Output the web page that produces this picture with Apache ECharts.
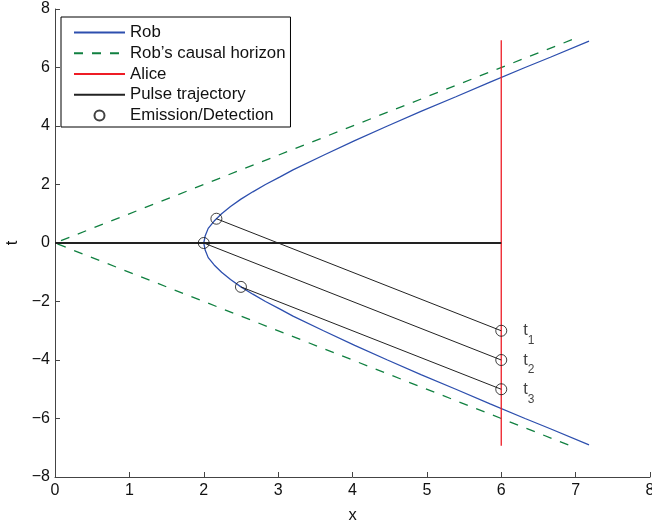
<!DOCTYPE html>
<html><head><meta charset="utf-8">
<script src="https://cdn.jsdelivr.net/npm/echarts@6/dist/echarts.min.js"></script>
<style>html,body{margin:0;padding:0;background:#fff}#c{width:652px;height:524px}</style>
</head><body><div id="c"></div>
<script>
// Rob's worldline (x, t)
const robX = [7.18, 6.66, 6.32, 5.85, 5.39, 4.92, 4.47, 4.03, 3.61, 3.20, 3.02, 2.83, 2.66, 2.50, 2.36, 2.24, 2.14, 2.06, 2.02, 2.00, 2.02, 2.06, 2.14, 2.24, 2.36, 2.50, 2.66, 2.83, 3.02, 3.20, 3.61, 4.03, 4.47, 4.92, 5.39, 5.85, 6.32, 6.66, 7.18];
const robT = [-6.9, -6.35, -6.0, -5.5, -5.0, -4.5, -4.0, -3.5, -3.0, -2.5, -2.25, -2.0, -1.75, -1.5, -1.25, -1.0, -0.75, -0.5, -0.25, 0, 0.25, 0.5, 0.75, 1.0, 1.25, 1.5, 1.75, 2.0, 2.25, 2.5, 3.0, 3.5, 4.0, 4.5, 5.0, 5.5, 6.0, 6.35, 6.9];
// causal horizon
const horizonX = [6.95, 0, 6.95];
const horizonT = [6.95, 0, -6.95];
// Alice
const aliceX = [6, 6];
const aliceT = [-6.93, 6.93];
// Pulse trajectories
const baseLineX = [0, 6];
const baseLineT = [0, 0];
const emitX = [2.17, 2.0, 2.5];
const emitT = [0.83, 0.0, -1.5];
const detectX = [6, 6, 6];
const detectT = [-3, -4, -5];
const detectLabels = ['1', '2', '3'];
const legendNames = ['Rob', "Rob’s causal horizon", 'Alice', 'Pulse trajectory', 'Emission/Detection'];

const FONT = "'Liberation Sans', Arial, Helvetica, sans-serif";
const zip = (a, b) => a.map((v, i) => [v, b[i]]);
const hidden = { opacity: 0 };

const pulseSeries = emitX.map((x, i) => ({
  name: legendNames[3], type: 'line', symbol: 'none', silent: true,
  data: [[x, emitT[i]], [detectX[i], detectT[i]]],
  lineStyle: { color: '#222', width: 1 }, itemStyle: hidden, z: 3
}));

const markerData = zip(emitX, emitT).concat(
  detectX.map((x, i) => ({
    value: [x, detectT[i]],
    label: { show: true, position: 'right', distance: 16,
      formatter: '{a|t}{b|' + detectLabels[i] + '}',
      rich: {
        a: { fontSize: 16.5, fontFamily: FONT, color: '#111' },
        b: { fontSize: 12, fontFamily: FONT, color: '#111', padding: [20, 0, 0, 0] }
      } }
  })));

const chart = echarts.init(document.getElementById('c'));
chart.setOption({
  animation: false,
  backgroundColor: '#fff',
  grid: { left: 55, right: 2, top: 9, bottom: 47, outerBoundsMode: 'none', containLabel: false },
  legend: {
    orient: 'vertical', left: 61, top: 17,
    padding: [7, 5, 3, 12],
    borderColor: '#000', borderWidth: 1, backgroundColor: '#fff',
    itemWidth: 51, itemHeight: 10, itemGap: 3.75,
    textStyle: { fontSize: 16.8, fontFamily: FONT, color: '#111' },
    data: legendNames
  },
  xAxis: {
    type: 'value', min: 0, max: 8, interval: 1,
    name: 'x', nameLocation: 'middle', nameGap: 30,
    nameTextStyle: { fontSize: 16.5, fontFamily: FONT, color: '#111' },
    axisLine: { onZero: false, lineStyle: { color: '#444', width: 1 } },
    axisTick: { inside: true, length: 5, lineStyle: { color: '#444' } },
    axisLabel: { fontSize: 16, fontFamily: FONT, color: '#111', margin: 6,
      formatter: v => String(v).replace('-', '\u2212') },
    splitLine: { show: false }
  },
  yAxis: {
    type: 'value', min: -8, max: 8, interval: 2,
    name: 't', nameLocation: 'middle', nameGap: 31,
    nameTextStyle: { fontSize: 16.5, fontFamily: FONT, color: '#111' },
    axisLine: { show: true, onZero: false, lineStyle: { color: '#444', width: 1 } },
    axisTick: { show: true, inside: true, length: 5, lineStyle: { color: '#444' } },
    axisLabel: { fontSize: 16, fontFamily: FONT, color: '#111', margin: 5,
      formatter: v => String(v).replace('-', '\u2212') },
    splitLine: { show: false }
  },
  series: [
    { name: legendNames[0], type: 'line', symbol: 'none', data: zip(robX, robT),
      lineStyle: { color: '#2d4fae', width: 1.3 }, itemStyle: hidden, z: 2 },
    { name: legendNames[1], type: 'line', symbol: 'none', data: zip(horizonX, horizonT),
      lineStyle: { color: '#108040', width: 1.3, type: [9, 9] }, itemStyle: hidden, z: 2 },
    { name: legendNames[2], type: 'line', symbol: 'none', data: zip(aliceX, aliceT),
      lineStyle: { color: '#ee1c25', width: 1.3 }, itemStyle: hidden, z: 2 },
    { name: legendNames[3], type: 'line', symbol: 'none', data: zip(baseLineX, baseLineT),
      lineStyle: { color: '#222', width: 1.8 }, itemStyle: hidden, z: 3 },
    ...pulseSeries,
    { name: legendNames[4], type: 'scatter', symbol: 'circle', symbolSize: 11,
      data: markerData,
      itemStyle: { color: 'rgba(0,0,0,0)', borderColor: '#111', borderWidth: 1 }, z: 5 }
  ]
});
</script></body></html>
